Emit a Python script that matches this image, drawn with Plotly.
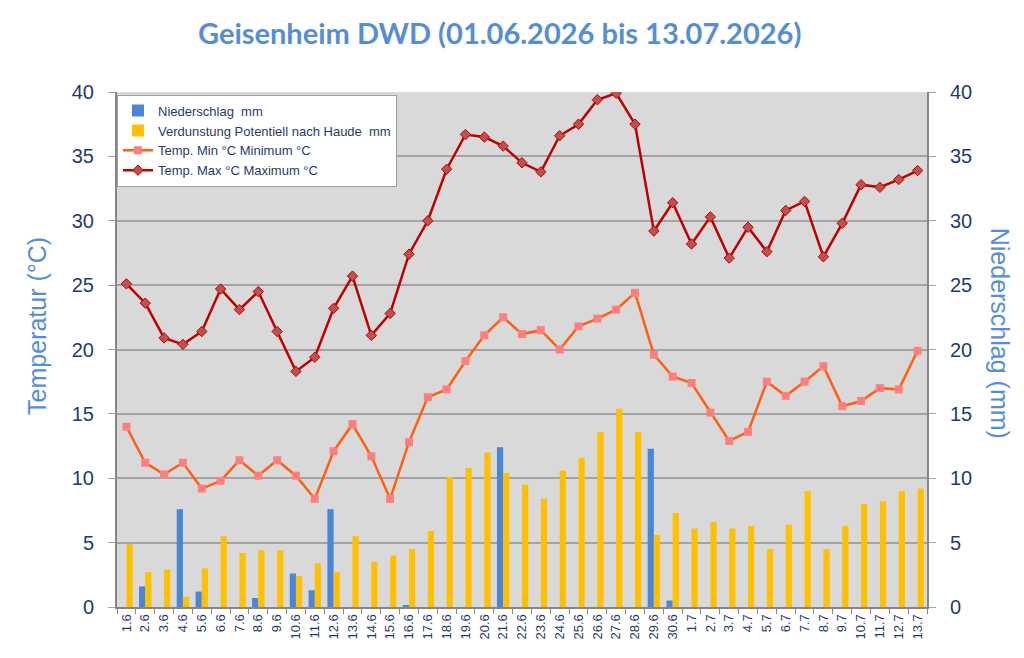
import plotly.graph_objects as go

dates = ["1.6", "2.6", "3.6", "4.6", "5.6", "6.6", "7.6", "8.6", "9.6", "10.6",
         "11.6", "12.6", "13.6", "14.6", "15.6", "16.6", "17.6", "18.6", "19.6", "20.6",
         "21.6", "22.6", "23.6", "24.6", "25.6", "26.6", "27.6", "28.6", "29.6", "30.6",
         "1.7", "2.7", "3.7", "4.7", "5.7", "6.7", "7.7", "8.7", "9.7", "10.7",
         "11.7", "12.7", "13.7"]

niederschlag = [0, 1.6, 0, 7.6, 1.2, 0, 0, 0.7, 0, 2.6,
                1.3, 7.6, 0, 0, 0, 0.1, 0, 0, 0, 0,
                12.4, 0, 0, 0, 0, 0, 0, 0, 12.3, 0.5,
                0, 0, 0, 0, 0, 0, 0, 0, 0, 0,
                0, 0, 0]

verdunstung = [4.9, 2.7, 2.9, 0.8, 3.0, 5.5, 4.2, 4.4, 4.4, 2.4,
               3.4, 2.7, 5.5, 3.5, 4.0, 4.5, 5.9, 10.1, 10.8, 12.0,
               10.4, 9.5, 8.4, 10.6, 11.6, 13.6, 15.4, 13.6, 5.6, 7.3,
               6.1, 6.6, 6.1, 6.3, 4.5, 6.4, 9.0, 4.5, 6.3, 8.0,
               8.2, 9.0, 9.2]

temp_min = [14.0, 11.2, 10.3, 11.2, 9.2, 9.8, 11.4, 10.2, 11.4, 10.2,
            8.4, 12.1, 14.2, 11.7, 8.4, 12.8, 16.3, 16.9, 19.1, 21.1,
            22.5, 21.2, 21.5, 20.0, 21.8, 22.4, 23.1, 24.4, 19.6, 17.9,
            17.4, 15.1, 12.9, 13.6, 17.5, 16.4, 17.5, 18.7, 15.6, 16.0,
            17.0, 16.9, 19.9]

temp_max = [25.1, 23.6, 20.9, 20.4, 21.4, 24.7, 23.1, 24.5, 21.4, 18.3,
            19.4, 23.2, 25.7, 21.1, 22.8, 27.4, 30.0, 34.0, 36.7, 36.5,
            35.8, 34.5, 33.8, 36.6, 37.5, 39.4, 39.9, 37.5, 29.2, 31.4,
            28.2, 30.3, 27.1, 29.5, 27.6, 30.8, 31.5, 27.2, 29.8, 32.8,
            32.6, 33.2, 33.9]

y_ticks = [0, 5, 10, 15, 20, 25, 30, 35, 40]

NAVY = "#1F3B6E"
LBLUE = "#558ED5"
GRID = "#A3A3A3"
AXL = "#868686"

fig = go.Figure()
fig.add_trace(go.Bar(x=dates, y=niederschlag, name="Niederschlag  mm",
                     marker=dict(color="#4A86D6", line=dict(width=0)), yaxis="y"))
fig.add_trace(go.Bar(x=dates, y=verdunstung, name="Verdunstung Potentiell nach Haude  mm",
                     marker=dict(color="#FFC000", line=dict(width=0)), yaxis="y"))
fig.add_trace(go.Scatter(x=dates, y=temp_min, name="Temp. Min °C Minimum °C", mode="lines+markers",
                         line=dict(color="#FF6010", width=2.5),
                         marker=dict(symbol="square", size=8, color="#FF7F7F", line=dict(width=0)),
                         yaxis="y2"))
fig.add_trace(go.Scatter(x=dates, y=temp_max, name="Temp. Max °C Maximum °C", mode="lines+markers",
                         line=dict(color="#C00000", width=2.5),
                         marker=dict(symbol="diamond", size=8, color="#C0504D",
                                     line=dict(color="#C00000", width=1)),
                         yaxis="y2"))

tickfont = dict(family="Liberation Sans, Arial, sans-serif", size=20, color=NAVY)

fig.update_layout(
    width=1024, height=658,
    margin=dict(l=117, r=97, t=92, b=51),
    paper_bgcolor="white",
    plot_bgcolor="#D9D9D9",
    barmode="group",
    bargap=0.34,
    bargroupgap=0.0,
    title=dict(text="<b>Geisenheim DWD (01.06.2026 bis 13.07.2026)</b>",
               x=0.488, xanchor="center", xref="container",
               y=0.948, yanchor="middle", yref="container",
               font=dict(family="Lato, Open Sans, sans-serif", size=29, color=LBLUE)),
    xaxis=dict(type="category", tickangle=-90, tickson="boundaries",
               range=[-0.5, len(dates) - 0.5],
               ticks="outside", ticklen=5, tickcolor=AXL,
               tickfont=dict(family="Liberation Sans, Arial, sans-serif", size=13, color=NAVY),
               showline=True, linecolor=AXL, linewidth=2, showgrid=False,
               fixedrange=True),
    yaxis=dict(range=[0, 40], tickvals=y_ticks, side="right",
               ticks="outside", ticklen=7, tickcolor=GRID,
               tickfont=tickfont, showgrid=True, gridcolor=GRID, gridwidth=1.5,
               showline=True, linecolor=AXL, linewidth=2, zeroline=False,
               ticklabelstandoff=10),
    yaxis2=dict(range=[0, 40], tickvals=y_ticks, side="left", overlaying="y",
                ticks="outside", ticklen=7, tickcolor=GRID,
                tickfont=tickfont, showgrid=False,
                showline=True, linecolor=AXL, linewidth=2, zeroline=False,
                ticklabelstandoff=10),
    legend=dict(x=0.0, y=0.995, xanchor="left", yanchor="top",
                bgcolor="white", bordercolor="#A0A0A0", borderwidth=1,
                font=dict(family="Liberation Sans, Arial, sans-serif", size=13, color=NAVY),
                itemwidth=30, tracegroupgap=0, traceorder="normal"),
    annotations=[
        dict(text="Temperatur (°C)", textangle=-90, xref="paper", yref="paper",
             x=-0.098, y=0.545, xanchor="center", yanchor="middle", showarrow=False,
             font=dict(family="Liberation Sans, Arial, sans-serif", size=25, color=LBLUE)),
        dict(text="Niederschlag (mm)", textangle=90, xref="paper", yref="paper",
             x=1.0905, y=0.532, xanchor="center", yanchor="middle", showarrow=False,
             font=dict(family="Liberation Sans, Arial, sans-serif", size=25, color=LBLUE)),
    ],
    showlegend=True,
)

fig.write_html("out.html")
